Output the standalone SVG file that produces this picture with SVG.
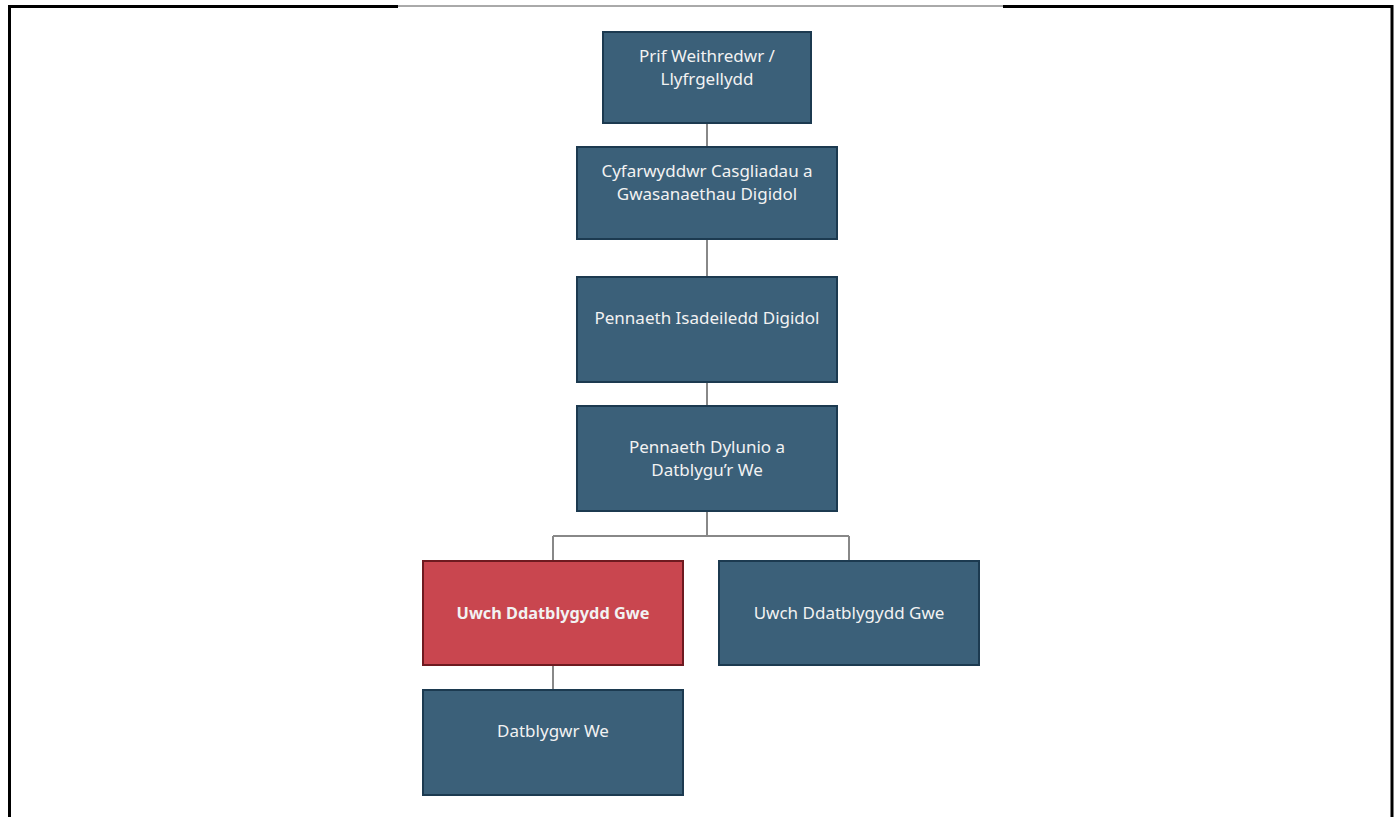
<svg xmlns="http://www.w3.org/2000/svg" width="1399" height="817" viewBox="0 0 1399 817">
<style>
.frame{stroke:#000;stroke-width:3;fill:none}
.thin{stroke:#555;stroke-width:1;fill:none}
.box{fill:#3b6079;stroke:#1c3a50;stroke-width:2}
.hl{fill:#c9464f;stroke:#6e1a20;stroke-width:2}
.lbl{font-family:"Noto Sans","Open Sans",sans-serif;font-size:17px;fill:#f2f2f2;text-anchor:middle}
.bold{font-weight:bold;font-size:16.3px}
.conn{stroke:#888;stroke-width:2;fill:none}
</style>
<rect width="1399" height="817" fill="#fff"/>
<g id="frame">
<path class="frame" d="M9.5,817 V6.5 H398"/>
<path class="thin" d="M398,6 H1003"/>
<path class="frame" d="M1003,6.5 H1392 V817"/>
</g>
<g id="connectors">
<path class="conn" d="M707,123 V147"/>
<path class="conn" d="M707,239 V277"/>
<path class="conn" d="M707,382 V406"/>
<path class="conn" d="M707,511 V536 M553,536 H849 M553,536 V561 M849,536 V561"/>
<path class="conn" d="M553,665 V690"/>
</g>
<g id="n1">
<rect class="box" x="603" y="32" width="208" height="91"/>
<text class="lbl" x="707" y="62">Prif Weithredwr /</text>
<text class="lbl" x="707" y="85">Llyfrgellydd</text>
</g>
<g id="n2">
<rect class="box" x="577" y="147" width="260" height="92"/>
<text class="lbl" x="707" y="177">Cyfarwyddwr Casgliadau a</text>
<text class="lbl" x="707" y="200">Gwasanaethau Digidol</text>
</g>
<g id="n3">
<rect class="box" x="577" y="277" width="260" height="105"/>
<text class="lbl" x="707" y="324">Pennaeth Isadeiledd Digidol</text>
</g>
<g id="n4">
<rect class="box" x="577" y="406" width="260" height="105"/>
<text class="lbl" x="707" y="453">Pennaeth Dylunio a</text>
<text class="lbl" x="707" y="476">Datblygu’r We</text>
</g>
<g id="n5">
<rect class="hl" x="423" y="561" width="260" height="104"/>
<text class="lbl bold" x="553" y="619">Uwch Ddatblygydd Gwe</text>
</g>
<g id="n6">
<rect class="box" x="719" y="561" width="260" height="104"/>
<text class="lbl" x="849" y="619">Uwch Ddatblygydd Gwe</text>
</g>
<g id="n7">
<rect class="box" x="423" y="690" width="260" height="105"/>
<text class="lbl" x="553" y="737">Datblygwr We</text>
</g>
</svg>
